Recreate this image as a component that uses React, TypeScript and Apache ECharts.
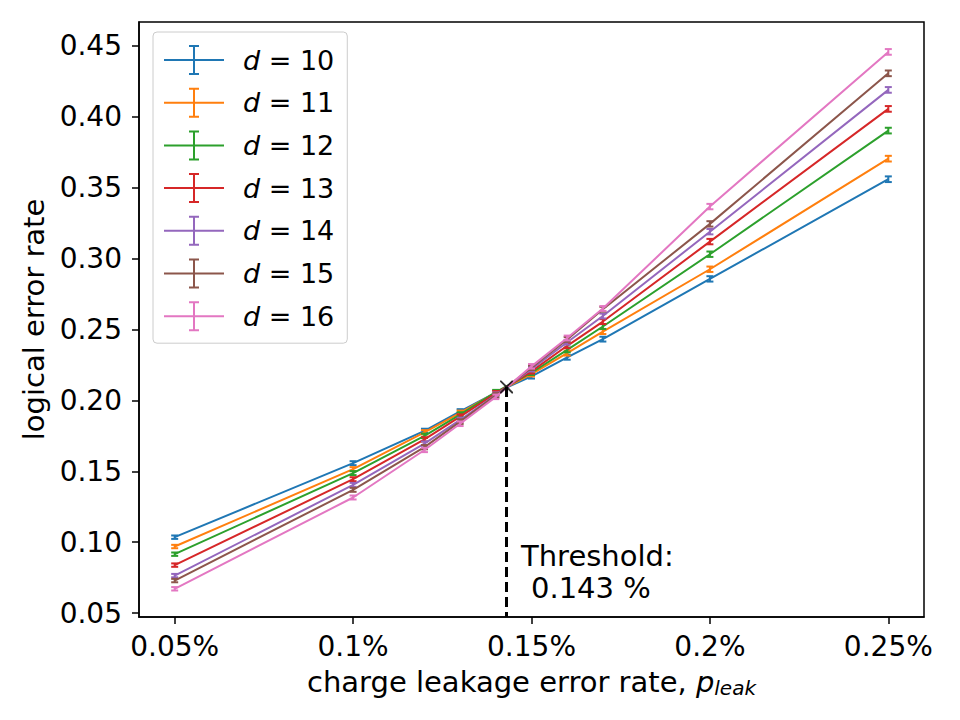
import React, { useEffect, useRef } from "react";
import * as echarts from "echarts";

const FONT = "DejaVu Sans";

const X_VALUES = [0.05, 0.1, 0.12, 0.13, 0.14, 0.15, 0.16, 0.17, 0.2, 0.25];
const D10 = [0.1035, 0.1557, 0.1785, 0.1922, 0.2055, 0.2170, 0.2304, 0.2432, 0.2857, 0.3560];
const D11 = [0.0969, 0.1515, 0.1775, 0.1912, 0.2055, 0.2185, 0.2333, 0.2485, 0.2925, 0.3705];
const D12 = [0.0915, 0.1487, 0.1750, 0.1900, 0.2058, 0.2195, 0.2356, 0.2521, 0.3031, 0.3903];
const D13 = [0.0838, 0.1444, 0.1725, 0.1885, 0.2050, 0.2205, 0.2385, 0.2556, 0.3120, 0.4056];
const D14 = [0.0764, 0.1404, 0.1695, 0.1862, 0.2040, 0.2220, 0.2410, 0.2595, 0.3190, 0.4190];
const D15 = [0.0729, 0.1369, 0.1670, 0.1850, 0.2035, 0.2230, 0.2430, 0.2643, 0.3245, 0.4307];
const D16 = [0.0671, 0.1315, 0.1650, 0.1835, 0.2025, 0.2240, 0.2440, 0.2648, 0.3367, 0.4458];
const ERR = [0.0012, 0.0014, 0.0015, 0.0016, 0.0016, 0.0016, 0.0017, 0.0017, 0.0019, 0.0020];

const SERIES_NAMES = ["d = 10", "d = 11", "d = 12", "d = 13", "d = 14", "d = 15", "d = 16"];
const SERIES_VALUES = [D10, D11, D12, D13, D14, D15, D16];
const COLORS = ["#1f77b4", "#ff7f0e", "#2ca02c", "#d62728", "#9467bd", "#8c564b", "#e377c2"];

const X_TICKS = [0.05, 0.1, 0.15, 0.2, 0.25];
const Y_TICKS = [0.05, 0.1, 0.15, 0.2, 0.25, 0.3, 0.35, 0.4, 0.45];
const X_MIN = 0.04;
const X_MAX = 0.26;
const Y_MIN = 0.0472;
const Y_MAX = 0.4669;

const THRESHOLD = 0.143;
const THRESHOLD_Y = 0.2095;

const LEGEND_ICON =
  "path://M0,14 L60,14 L60,16 L0,16 Z M29,0 L31,0 L31,30 L29,30 Z M25,0 L35,0 L35,2 L25,2 Z M25,28 L35,28 L35,30 L25,30 Z";
const X_MARK =
  "path://M0,0 L1.2,0 L12,10.8 L12,12 L10.8,12 L0,1.2 Z M10.8,0 L12,0 L12,1.2 L1.2,12 L0,12 L0,10.8 Z";

export default function App() {
  const ref = useRef<HTMLDivElement>(null);

  useEffect(() => {
    if (!ref.current) return;
    const chart = echarts.init(ref.current, null, { renderer: "svg" });

    const series: any[] = [];
    SERIES_NAMES.forEach((name, k) => {
      const vals = SERIES_VALUES[k];
      series.push({
        name,
        type: "line",
        data: X_VALUES.map((x, i) => [x, vals[i]]),
        symbol: "none",
        showSymbol: false,
        lineStyle: { width: 2, color: COLORS[k] },
        itemStyle: { color: COLORS[k] },
        z: 2 + k * 2,
      });
      series.push({
        name,
        type: "custom",
        data: X_VALUES.map((x, i) => [x, vals[i], ERR[i]]),
        encode: { x: 0, y: 1 },
        z: 3 + k * 2,
        renderItem: (params: any, api: any) => {
          const x = api.value(0);
          const y = api.value(1);
          const e = api.value(2);
          const lo = api.coord([x, y - e]);
          const hi = api.coord([x, y + e]);
          const style = { stroke: COLORS[k], lineWidth: 2 };
          const cap = 3.5;
          return {
            type: "group",
            children: [
              { type: "line", shape: { x1: lo[0], y1: lo[1], x2: hi[0], y2: hi[1] }, style },
              { type: "line", shape: { x1: lo[0] - cap, y1: lo[1], x2: lo[0] + cap, y2: lo[1] }, style },
              { type: "line", shape: { x1: hi[0] - cap, y1: hi[1], x2: hi[0] + cap, y2: hi[1] }, style },
            ],
          };
        },
      });
    });

    series.push({
      name: "threshold",
      type: "line",
      data: [
        [THRESHOLD, THRESHOLD_Y],
        [THRESHOLD, Y_MIN],
      ],
      symbol: "none",
      lineStyle: { color: "#000", width: 3, type: [10, 5] },
      z: 30,
    });
    series.push({
      name: "threshold point",
      type: "scatter",
      data: [[THRESHOLD, THRESHOLD_Y]],
      symbol: X_MARK,
      symbolSize: 13,
      itemStyle: { color: "#000" },
      z: 31,
    });

    chart.setOption({
      animation: false,
      textStyle: { fontFamily: FONT },
      grid: {
        left: 139,
        right: 36,
        top: 22,
        bottom: 103,
        show: true,
        borderColor: "#000",
        borderWidth: 1.5,
      },
      legend: {
        data: SERIES_NAMES.map((n) => ({ name: n, icon: LEGEND_ICON })),
        orient: "vertical",
        left: 153,
        top: 32,
        padding: [13, 13, 12, 11],
        itemGap: 12.7,
        itemWidth: 60,
        itemHeight: 30,
        borderColor: "#cccccc",
        borderWidth: 1,
        borderRadius: 4,
        backgroundColor: "rgba(255,255,255,0.8)",
        formatter: (name: string) => "{sp| }{i|d}" + name.slice(1),
        textStyle: {
          fontSize: 27,
          fontFamily: FONT,
          color: "#000",
          lineHeight: 30,
          rich: {
            sp: { width: 14, fontSize: 27, fontFamily: FONT },
            i: { fontStyle: "italic", fontSize: 27, fontFamily: FONT, color: "#000" },
          },
        },
      },
      xAxis: {
        type: "value",
        min: X_MIN,
        max: X_MAX,
        splitLine: { show: false },
        axisLine: { show: true, onZero: false, lineStyle: { color: "#000", width: 1.5 } },
        axisTick: { show: true, customValues: X_TICKS, length: 7, lineStyle: { color: "#000", width: 1.5 } },
        axisLabel: {
          customValues: X_TICKS,
          formatter: (v: number) => `${v}%`,
          fontSize: 28,
          fontFamily: FONT,
          color: "#000",
          margin: 15,
        },
        name: "{n|charge leakage error rate, }{p|p}{s|leak}",
        nameLocation: "middle",
        nameGap: 49,
        nameTextStyle: {
          fontSize: 29,
          fontFamily: FONT,
          color: "#000",
          rich: {
            n: { fontSize: 29, fontFamily: FONT, color: "#000", lineHeight: 32 },
            p: { fontSize: 29, fontFamily: FONT, color: "#000", fontStyle: "italic", lineHeight: 32 },
            s: {
              fontSize: 20,
              fontFamily: FONT,
              color: "#000",
              fontStyle: "italic",
              lineHeight: 19,
              verticalAlign: "bottom",
            },
          },
        },
      },
      yAxis: {
        type: "value",
        min: Y_MIN,
        max: Y_MAX,
        splitLine: { show: false },
        axisLine: { show: true, onZero: false, lineStyle: { color: "#000", width: 1.5 } },
        axisTick: { show: true, customValues: Y_TICKS, length: 7, lineStyle: { color: "#000", width: 1.5 } },
        axisLabel: {
          customValues: Y_TICKS,
          formatter: (v: number) => v.toFixed(2),
          fontSize: 28,
          fontFamily: FONT,
          color: "#000",
          margin: 17,
        },
        name: "logical error rate",
        nameLocation: "middle",
        nameGap: 77,
        nameRotate: 90,
        nameTextStyle: { fontSize: 29, fontFamily: FONT, color: "#000" },
      },
      graphic: [
        {
          type: "text",
          x: 521,
          y: 556,
          style: {
            text: "Threshold:",
            font: `29px "${FONT}"`,
            fill: "#000",
            verticalAlign: "middle",
          },
        },
        {
          type: "text",
          x: 531,
          y: 588,
          style: {
            text: "0.143 %",
            font: `29px "${FONT}"`,
            fill: "#000",
            verticalAlign: "middle",
          },
        },
      ],
      series,
    });

    return () => chart.dispose();
  }, []);

  return (
    <div
      ref={ref}
      style={{ position: "fixed", left: 0, top: 0, width: 960, height: 720, background: "#fff" }}
    />
  );
}
